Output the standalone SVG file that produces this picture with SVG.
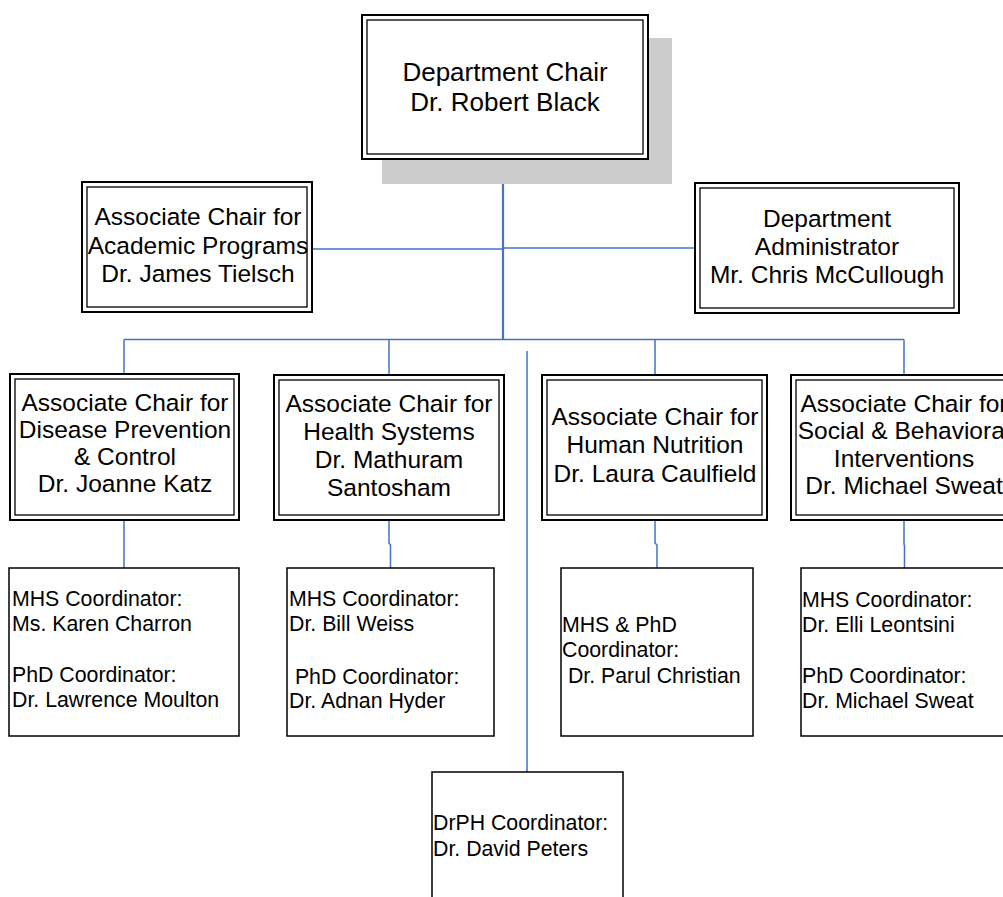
<svg xmlns="http://www.w3.org/2000/svg" width="1003" height="897" viewBox="0 0 1003 897">
<style>
.outer{fill:#fff;stroke:#000;stroke-width:2}
.inner{fill:none;stroke:#000;stroke-width:1.3}
.coord{fill:#fff;stroke:#000;stroke-width:1.5}
.conn{fill:none;stroke:#4472C4;stroke-width:1.5}
.trunk{fill:none;stroke:#4472C4;stroke-width:2.2}
text{font-family:"Liberation Sans",Arial,sans-serif;fill:#000}
.t26{font-size:26px;text-anchor:middle}
.t24{font-size:24.5px;text-anchor:middle}
.t21{font-size:21.3px}
</style>
<rect x="0" y="0" width="1003" height="897" fill="#fff"/>
<g id="connectors">
<line class="trunk" x1="503" y1="159" x2="503" y2="340"/>
<line class="conn" x1="312" y1="249" x2="503" y2="249"/>
<line class="conn" x1="503" y1="248" x2="695" y2="248"/>
<line class="conn" x1="124" y1="339.5" x2="904" y2="339.5"/>
<line class="conn" x1="124" y1="339.5" x2="124" y2="374"/>
<line class="conn" x1="389" y1="339.5" x2="389" y2="375"/>
<line class="conn" x1="655" y1="339.5" x2="655" y2="375"/>
<line class="conn" x1="904" y1="339.5" x2="904" y2="375"/>
<line class="conn" x1="527" y1="351" x2="527" y2="772"/>
<line class="conn" x1="124" y1="520" x2="124" y2="568"/>
<polyline class="conn" points="389,520 389,543 390.5,545 390.5,568"/>
<polyline class="conn" points="655,520 655,543 657,545 657,568"/>
<polyline class="conn" points="904,520 904,544 904.5,546 904.5,568"/>
</g>
<g id="chair">
<rect x="382" y="38" width="290" height="146" fill="#cccccc"/>
<rect class="outer" x="362" y="15" width="286" height="144"/>
<rect class="inner" x="367" y="20" width="276" height="134"/>
<text class="t26" x="505" y="81">Department Chair</text>
<text class="t26" x="505" y="111">Dr. Robert Black</text>
</g>
<g id="academic">
<rect class="outer" x="82" y="182" width="230" height="130"/>
<rect class="inner" x="87" y="187" width="220" height="120"/>
<text class="t24" x="198" y="225">Associate Chair for</text>
<text class="t24" x="198" y="254">Academic Programs</text>
<text class="t24" x="198" y="282">Dr. James Tielsch</text>
</g>
<g id="administrator">
<rect class="outer" x="695" y="183" width="264" height="130"/>
<rect class="inner" x="700" y="188" width="254" height="120"/>
<text class="t24" x="827" y="227">Department</text>
<text class="t24" x="827" y="255">Administrator</text>
<text class="t24" x="827" y="283">Mr. Chris McCullough</text>
</g>
<g id="disease">
<rect class="outer" x="10" y="374" width="229" height="146"/>
<rect class="inner" x="15" y="379" width="219" height="136"/>
<text class="t24" x="125" y="411">Associate Chair for</text>
<text class="t24" x="125" y="438">Disease Prevention</text>
<text class="t24" x="125" y="465">&amp; Control</text>
<text class="t24" x="125" y="492">Dr. Joanne Katz</text>
</g>
<g id="health">
<rect class="outer" x="274" y="375" width="230" height="145"/>
<rect class="inner" x="279" y="380" width="220" height="135"/>
<text class="t24" x="389" y="412">Associate Chair for</text>
<text class="t24" x="389" y="440">Health Systems</text>
<text class="t24" x="389" y="468">Dr. Mathuram</text>
<text class="t24" x="389" y="496">Santosham</text>
</g>
<g id="nutrition">
<rect class="outer" x="542" y="375" width="225" height="145"/>
<rect class="inner" x="547" y="380" width="215" height="135"/>
<text class="t24" x="655" y="425">Associate Chair for</text>
<text class="t24" x="655" y="453">Human Nutrition</text>
<text class="t24" x="655" y="482">Dr. Laura Caulfield</text>
</g>
<g id="social">
<rect class="outer" x="791" y="375" width="226" height="145"/>
<rect class="inner" x="796" y="380" width="216" height="135"/>
<text class="t24" x="904" y="412">Associate Chair for</text>
<text class="t24" x="904" y="439">Social &amp; Behavioral</text>
<text class="t24" x="904" y="467">Interventions</text>
<text class="t24" x="904" y="494">Dr. Michael Sweat</text>
</g>
<g id="coord-disease">
<rect class="coord" x="9" y="568" width="230" height="168"/>
<text class="t21" x="12" y="606">MHS Coordinator:</text>
<text class="t21" x="12" y="631">Ms. Karen Charron</text>
<text class="t21" x="12" y="682">PhD Coordinator:</text>
<text class="t21" x="12" y="707">Dr. Lawrence Moulton</text>
</g>
<g id="coord-health">
<rect class="coord" x="287" y="568" width="207" height="168"/>
<text class="t21" x="289" y="606">MHS Coordinator:</text>
<text class="t21" x="289" y="631">Dr. Bill Weiss</text>
<text class="t21" x="289" y="684" xml:space="preserve"> PhD Coordinator:</text>
<text class="t21" x="289" y="708">Dr. Adnan Hyder</text>
</g>
<g id="coord-nutrition">
<rect class="coord" x="561" y="568" width="192" height="168"/>
<text class="t21" x="562" y="632">MHS &amp; PhD</text>
<text class="t21" x="562" y="657">Coordinator:</text>
<text class="t21" x="562" y="683" xml:space="preserve"> Dr. Parul Christian</text>
</g>
<g id="coord-social">
<rect class="coord" x="801" y="568" width="215" height="168"/>
<text class="t21" x="802" y="607">MHS Coordinator:</text>
<text class="t21" x="802" y="632">Dr. Elli Leontsini</text>
<text class="t21" x="802" y="683">PhD Coordinator:</text>
<text class="t21" x="802" y="708">Dr. Michael Sweat</text>
</g>
<g id="coord-drph">
<rect class="coord" x="432" y="772" width="191" height="140"/>
<text class="t21" x="433" y="830">DrPH Coordinator:</text>
<text class="t21" x="433" y="856">Dr. David Peters</text>
</g>
</svg>
